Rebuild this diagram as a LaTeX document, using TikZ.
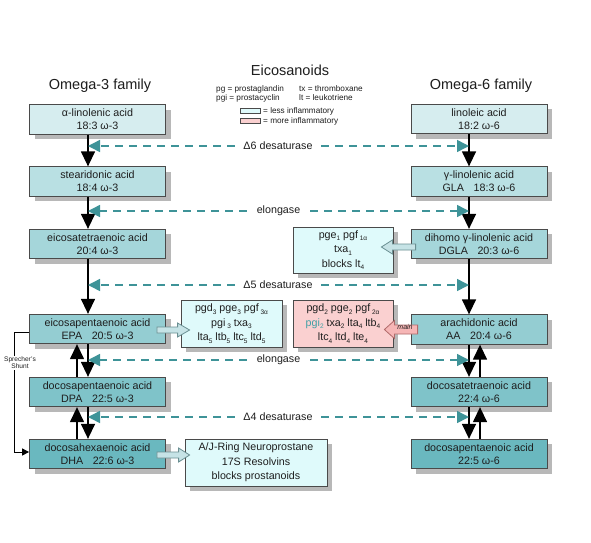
\documentclass[tikz,border=0pt]{standalone}
\usepackage{fontspec}
\setmainfont{Liberation Sans}
\usetikzlibrary{arrows.meta,shadows,calc}
\definecolor{lv1}{HTML}{D6EDEF}
\definecolor{lv2}{HTML}{B9E0E3}
\definecolor{lv3}{HTML}{A5D6DA}
\definecolor{lv4}{HTML}{94CDD2}
\definecolor{lv5}{HTML}{7FC3C9}
\definecolor{lv6}{HTML}{6AB8BF}
\definecolor{lesscol}{HTML}{DFFAFB}
\definecolor{morecol}{HTML}{FAD0D0}
\definecolor{boxline}{HTML}{4A4A4A}
\definecolor{shadowc}{HTML}{B8B8B8}
\definecolor{dashc}{HTML}{3E9398}
\definecolor{pgic}{HTML}{3FA0A5}
\definecolor{txt}{HTML}{1E1E1E}
\definecolor{hfill}{HTML}{C6E3E6}
\definecolor{hline}{HTML}{6A8F92}
\definecolor{mainfill}{HTML}{F6B6B6}
\definecolor{mainline}{HTML}{B06A6A}
\newcommand\sbx[1]{\raisebox{-0.45ex}{\fontsize{6.5}{7}\selectfont #1}}
\newcommand\harrow[6][]{%
  \path[#1] let \p1=(#2), \p2=(#3), \n1={sign(\x2-\x1)} in
   ({\x1},{\y1+#4}) -- ({\x2-(\n1)*#6},{\y1+#4}) -- ({\x2-(\n1)*#6},{\y1+#5}) -- ({\x2},{\y1})
   -- ({\x2-(\n1)*#6},{\y1-#5}) -- ({\x2-(\n1)*#6},{\y1-#4}) -- ({\x1},{\y1-#4}) -- cycle;}
\begin{document}
\begin{tikzpicture}[x=1pt,y=-1pt,
  acid/.style={draw=boxline, line width=0.8pt, minimum width=136pt, minimum height=29.5pt,
    inner sep=0pt, align=center, text=txt, font=\fontsize{10.7}{13}\selectfont,
    general shadow={fill=shadowc, shadow xshift=5pt, shadow yshift=-5pt}},
  prod/.style={draw=boxline, line width=0.8pt, inner sep=0pt, align=center, text=txt,
    font=\fontsize{10.7}{14.5}\selectfont,
    general shadow={fill=shadowc, shadow xshift=5pt, shadow yshift=-5pt}},
  ttl/.style={font=\fontsize{14.5}{17}\selectfont, text=txt, inner sep=0pt},
  leg/.style={font=\fontsize{8.2}{9}\selectfont, text=txt, inner sep=0pt, anchor=west},
  legbox/.style={draw=boxline, line width=0.6pt, minimum width=20pt, minimum height=5pt, inner sep=0pt},
  enz/.style={font=\fontsize{10.7}{13}\selectfont, text=txt, inner xsep=8.5pt, inner ysep=2pt},
  dsh/.style={draw=dashc, line width=1.5pt, dash pattern=on 8pt off 6pt,
    -{Triangle[length=12pt,width=12pt,fill=dashc]}},
  blk/.style={draw=black, line width=1.4pt, -{Triangle[length=15pt,width=14pt]}},
  shunt/.style={draw=black, line width=1pt, -{Triangle[length=7pt,width=7pt]}},
  hollowa/.style={fill=hfill, draw=hline, line width=0.8pt},
  mainarr/.style={fill=mainfill, draw=mainline, line width=0.8pt}]
\useasboundingbox (0,0) rectangle (591,542);
\fill[white] (0,0) rectangle (591,542);

% titles
\node[ttl] (t3) at (100,86) {Omega-3 family};
\node[ttl] (t6) at (481,86) {Omega-6 family};
\node[ttl] (te) at (290,70) {Eicosanoids};

% legend
\node[leg] (l1) at (216,89) {pg = prostaglandin};
\node[leg] (l2) at (216,98) {pgi = prostacyclin};
\node[leg] (l3) at (299,89) {tx = thromboxane};
\node[leg] (l4) at (299,98) {lt = leukotriene};
\node[legbox, fill=lesscol] (lb1) at (250,111) {};
\node[leg] (lt1) at (263,111) {= less inflammatory};
\node[legbox, fill=morecol] (lb2) at (250,121) {};
\node[leg] (lt2) at (263,121) {= more inflammatory};

% omega-3 column
\node[acid, fill=lv1] (a1) at (97.5,119.5) {α-linolenic acid\\18:3 ω-3};
\node[acid, fill=lv2] (a2) at (97.5,181.5) {stearidonic acid\\18:4 ω-3};
\node[acid, fill=lv3] (a3) at (97.5,244) {eicosatetraenoic acid\\20:4 ω-3};
\node[acid, fill=lv4] (epa) at (97.5,329) {eicosapentaenoic acid\\EPA\hspace{0.9em}20:5 ω-3};
\node[acid, fill=lv5] (dpa) at (97.5,392) {docosapentaenoic acid\\DPA\hspace{0.9em}22:5 ω-3};
\node[acid, fill=lv6] (dha) at (97.5,454) {docosahexaenoic acid\\DHA\hspace{0.9em}22:6 ω-3};

% omega-6 column
\node[acid, fill=lv1] (b1) at (479,119) {linoleic acid\\18:2 ω-6};
\node[acid, fill=lv2] (b2) at (479,181.5) {γ-linolenic acid\\GLA\hspace{0.9em}18:3 ω-6};
\node[acid, fill=lv3] (dgla) at (479,244) {dihomo γ-linolenic acid\\DGLA\hspace{0.9em}20:3 ω-6};
\node[acid, fill=lv4] (aa) at (479,329.5) {arachidonic acid\\AA\hspace{0.9em}20:4 ω-6};
\node[acid, fill=lv5] (b5) at (479,392) {docosatetraenoic acid\\22:4 ω-6};
\node[acid, fill=lv6] (b6) at (479,454) {docosapentaenoic acid\\22:5 ω-6};

% products
\node[prod, fill=lesscol, minimum width=100pt, minimum height=46pt] (p1) at (343,250)
  {pge\sbx{1} pgf\,\sbx{1α}\\txa\sbx{1}\\blocks lt\sbx{4}};
\node[prod, fill=lesscol, minimum width=101pt, minimum height=47pt] (p2) at (231.5,323.5)
  {pgd\sbx{3} pge\sbx{3} pgf\,\sbx{3α}\\pgi\,\sbx{3} txa\sbx{3}\\lta\sbx{5} ltb\sbx{5} ltc\sbx{5} ltd\sbx{5}};
\node[prod, fill=morecol, minimum width=100pt, minimum height=47pt] (p3) at (343,323.5)
  {pgd\sbx{2} pge\sbx{2} pgf\,\sbx{2α}\\\textcolor{pgic}{pgi\sbx{2}} txa\sbx{2} lta\sbx{4} ltb\sbx{4}\\ltc\sbx{4} ltd\sbx{4} lte\sbx{4}};
\node[prod, fill=lesscol, minimum width=142pt, minimum height=47pt] (p4) at (256,462.5)
  {A/J-Ring Neuroprostane\\17S Resolvins\\blocks prostanoids};

% vertical arrows, omega-3
\draw[blk] ([xshift=-9.5pt]a1.south) -- ([xshift=-9.5pt]a2.north);
\draw[blk] ([xshift=-9.5pt]a2.south) -- ([xshift=-9.5pt]a3.north);
\draw[blk] ([xshift=-9.5pt]a3.south) -- ([xshift=-9.5pt]epa.north);
\draw[blk] ([xshift=-9.5pt]epa.south) -- ([xshift=-9.5pt]dpa.north);
\draw[blk] ([xshift=-20.5pt]dpa.north) -- ([xshift=-20.5pt]epa.south);
\draw[blk] ([xshift=-9.5pt]dpa.south) -- ([xshift=-9.5pt]dha.north);
\draw[blk] ([xshift=-20.5pt]dha.north) -- ([xshift=-20.5pt]dpa.south);

% vertical arrows, omega-6
\draw[blk] ([xshift=-10pt]b1.south) -- ([xshift=-10pt]b2.north);
\draw[blk] ([xshift=-10pt]b2.south) -- ([xshift=-10pt]dgla.north);
\draw[blk] ([xshift=-10pt]dgla.south) -- ([xshift=-10pt]aa.north);
\draw[blk] ([xshift=-10pt]aa.south) -- ([xshift=-10pt]b5.north);
\draw[blk] ([xshift=1pt]b5.north) -- ([xshift=1pt]aa.south);
\draw[blk] ([xshift=-10pt]b5.south) -- ([xshift=-10pt]b6.north);
\draw[blk] ([xshift=1pt]b6.north) -- ([xshift=1pt]b5.south);

% enzyme labels and dashed arrows
\coordinate (Lline) at ([xshift=-9.5pt]a1.south);
\coordinate (Rline) at ([xshift=-10pt]b1.south);
\node[enz] (d6) at (278,146) {Δ6 desaturase};
\node[enz, inner xsep=10pt] (e1) at (278.5,211) {elongase};
\node[enz] (d5) at (278,285) {Δ5 desaturase};
\node[enz, inner xsep=10pt] (e2) at (278.5,360) {elongase};
\node[enz] (d4) at (278,417) {Δ4 desaturase};
\foreach \n in {d6,e1,d5,e2,d4}{
  \draw[dsh] (\n.west) -- (\n.west -| Lline);
  \draw[dsh] (\n.east) -- (\n.east -| Rline);
}

% Sprecher's shunt
\coordinate (shx) at (14,0);
\draw[shunt] ([yshift=-3pt]epa.west) -- ([yshift=-3pt]epa.west -| shx)
  -- ([yshift=2pt]dha.west -| shx) -- ([yshift=2pt]dha.west);
\node[fill=white, inner sep=1pt, align=center, text=txt, font=\fontsize{6.6}{7.2}\selectfont] (shl) at (20,363) {Sprecher's\\Shunt};

% product arrows
\harrow[hollowa]{[xshift=5pt,yshift=-3pt]dgla.west}{[xshift=-12pt]p1.east}{3pt}{7pt}{11pt}
\harrow[hollowa]{[xshift=-9pt,yshift=-1pt]epa.east}{[xshift=9pt]p2.west}{3pt}{7pt}{12pt}
\harrow[hollowa]{[xshift=-9pt,yshift=-1pt]dha.east}{[xshift=5pt]p4.west}{3pt}{7pt}{11pt}
\harrow[mainarr]{[xshift=7pt]aa.west}{[xshift=-9pt]p3.east}{4.5pt}{9pt}{10pt}
\node[font=\itshape\fontsize{7}{8}\selectfont, text=txt, inner sep=0pt] (mainlbl) at ($(aa.west)!0.5!(p3.east)+(3,0)$) {main};
\end{tikzpicture}
\end{document}
